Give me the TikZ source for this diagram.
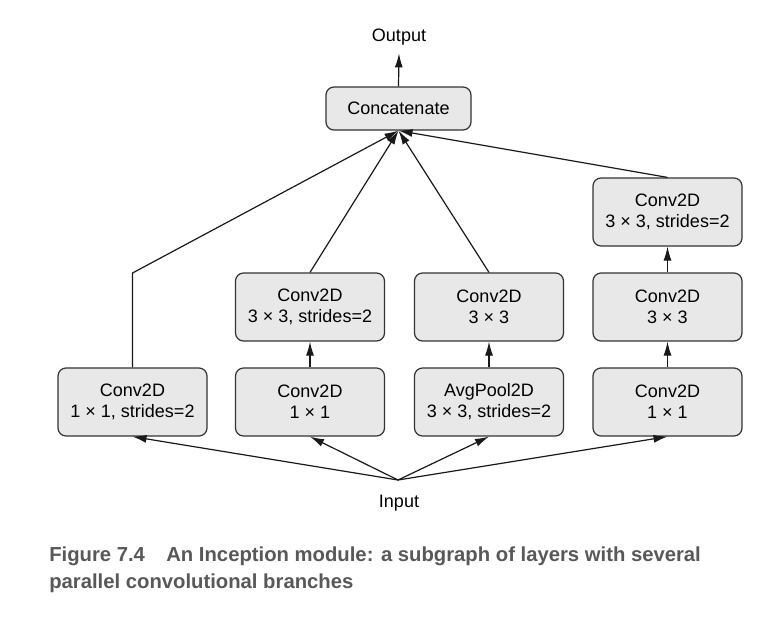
\documentclass[tikz,border=0pt]{standalone}
\usepackage{fontspec}
\setmainfont{Liberation Sans}
\usetikzlibrary{arrows.meta}
\definecolor{boxfill}{HTML}{E8E8E8}
\definecolor{boxline}{HTML}{333333}
\definecolor{capgray}{HTML}{585858}
\begin{document}
\begin{tikzpicture}[x=0.75pt,y=-0.75pt,
  layer/.style={draw=boxline,fill=boxfill,line width=0.9pt,rounded corners=6pt,
    minimum width=111.75pt,minimum height=51pt,inner sep=0pt,align=center,
    font=\fontsize{13.5}{15.75}\selectfont},
  lbl/.style={font=\fontsize{13.5}{15.75}\selectfont,inner sep=0pt},
  conn/.style={line width=0.9pt,draw=black!90},
  arr/.style={conn,-{Latex[length=10.5pt,width=6pt]}},
  captext/.style={anchor=base west,inner sep=0pt,text=capgray,
    font=\bfseries\fontsize{15.2}{18}\selectfont}]
\useasboundingbox (0,0) rectangle (768,622);

\node[layer,minimum width=108.75pt,minimum height=32.25pt] (concat) at (398.5,108.5) {Concatenate};
\node[lbl,inner ysep=6pt] (output) at (399,37) {Output};

\node[layer] (c1) at (132.5,402) {Conv2D\\1 × 1, strides=2};
\node[layer] (c2) at (310,402) {Conv2D\\1 × 1};
\node[layer] (p3) at (489,402) {AvgPool2D\\3 × 3, strides=2};
\node[layer] (c4) at (667.5,402) {Conv2D\\1 × 1};

\node[layer] (m2) at (310,307) {Conv2D\\3 × 3, strides=2};
\node[layer] (m3) at (489,307) {Conv2D\\3 × 3};
\node[layer] (m4) at (667.5,307) {Conv2D\\3 × 3};

\node[layer] (t4) at (667.5,212) {Conv2D\\3 × 3, strides=2};

\node[lbl] (input) at (399,503) {Input};
\coordinate (in) at (398,480);
\coordinate (bend) at (132.5,273);

\draw[arr] (in) -- (c1.south);
\draw[arr] (in) -- (c2.south);
\draw[arr] (in) -- (p3.south);
\draw[arr] (in) -- (c4.south);

\draw[arr] (c2.north) -- (m2.south);
\draw[arr] (p3.north) -- (m3.south);
\draw[arr] (c4.north) -- (m4.south);
\draw[arr] (m4.north) -- (t4.south);

\draw[arr] (c1.north) -- (bend) -- (concat.south);
\draw[arr] (m2.north) -- (concat.south);
\draw[arr] (m3.north) -- (concat.south);
\draw[arr] (t4.north) -- (concat.south);

\draw[arr] (concat.north) -- (output.south);

\node[captext] (cap1) at (49,561.5) {Figure 7.4\hspace{16pt}An Inception module: a subgraph of layers with several};
\node[captext] (cap2) at (49,588) {parallel convolutional branches};
\end{tikzpicture}
\end{document}
